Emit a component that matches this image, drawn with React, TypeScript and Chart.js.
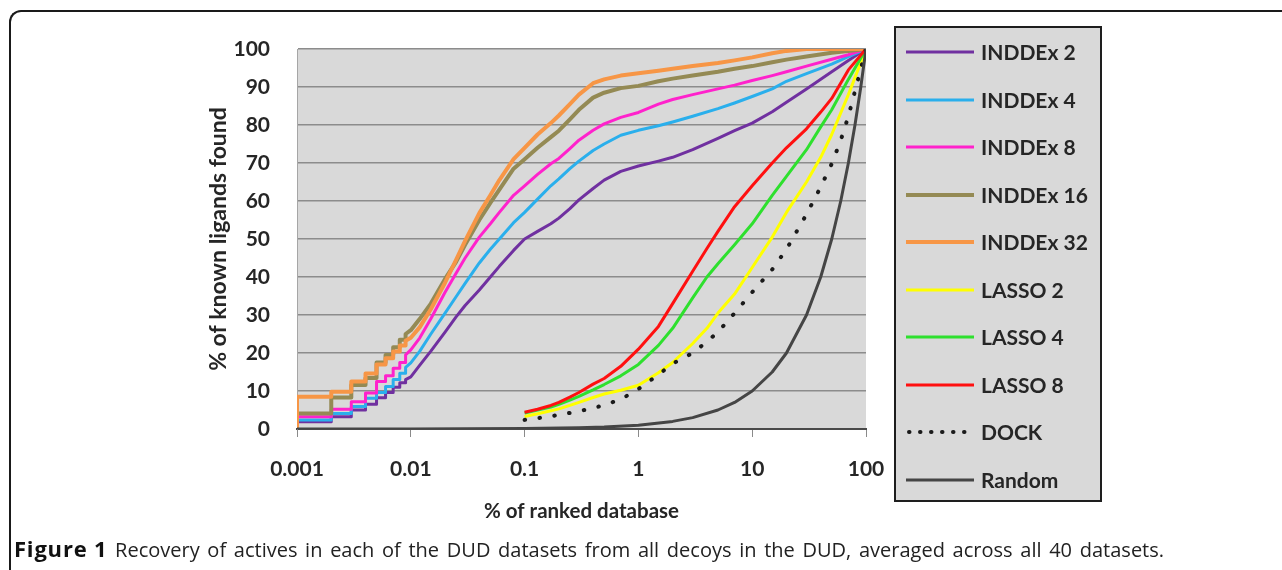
import React, { useEffect, useRef } from 'react';
import { Chart, registerables } from 'chart.js';

Chart.register(...registerables);

// ---------- data ----------
const seriesLabels = ['INDDEx 2', 'INDDEx 4', 'INDDEx 8', 'INDDEx 16', 'INDDEx 32', 'LASSO 2', 'LASSO 4', 'LASSO 8', 'DOCK', 'Random'];

const xTickValues = [0.001, 0.01, 0.1, 1, 10, 100];
const xTickLabels = ['0.001', '0.01', '0.1', '1', '10', '100'];

const inddexX = [
  0.001, 0.001, 0.002, 0.002, 0.003, 0.003, 0.004, 0.004, 0.005, 0.005, 0.006, 0.006, 0.007, 0.007, 0.008, 0.008, 0.009, 0.009,
  0.01, 0.012, 0.015, 0.02, 0.025, 0.03, 0.04, 0.05, 0.06, 0.08, 0.1, 0.13, 0.17, 0.2, 0.25, 0.3, 0.4, 0.5, 0.7,
  1, 1.5, 2, 3, 5, 7, 10, 15, 20, 30, 50, 70, 100,
];
const inddex2 = [
  0, 1.9, 1.9, 3.2, 3.2, 5, 5, 6.5, 6.5, 8.2, 8.2, 9.6, 9.6, 11, 11, 12.2, 12.2, 13,
  13.7, 16.8, 20.5, 25.5, 29.5, 32.5, 36.6, 40, 42.8, 47, 50, 52, 54, 55.5, 58, 60.3, 63.3, 65.5, 67.8,
  69.2, 70.5, 71.5, 73.5, 76.5, 78.5, 80.5, 83.5, 86, 89.5, 94, 97, 100,
];
const inddex4 = [
  0, 2.4, 2.4, 4.1, 4.1, 5.9, 5.9, 8.1, 8.1, 9.6, 9.6, 11.2, 11.2, 13, 13, 14.7, 14.7, 16.2,
  17.4, 20.5, 25, 30.5, 34.8, 38.3, 43.7, 47.3, 50, 54.3, 57, 60.5, 64, 65.8, 68.5, 70.5, 73.3, 75, 77.3,
  78.6, 79.8, 80.8, 82.3, 84.3, 85.8, 87.5, 89.5, 91.5, 93.5, 96, 98, 100,
];
const inddex8 = [
  0, 3.2, 3.2, 5.2, 5.2, 7.2, 7.2, 9.5, 9.5, 12.5, 12.5, 14, 14, 16, 16, 17.5, 17.5, 19.5,
  20.8, 24, 29, 36, 41, 45, 50.5, 54, 57, 61.5, 64, 67, 69.8, 71.2, 73.8, 76, 78.6, 80.3, 82,
  83.3, 85.5, 86.7, 88, 89.5, 90.5, 91.7, 93, 94, 95.5, 97.3, 98.5, 100,
];
const inddex16 = [
  0, 4.1, 4.1, 8.3, 8.3, 11.6, 11.6, 13.4, 13.4, 17.5, 17.5, 19.5, 19.5, 21.5, 21.5, 23.5, 23.5, 25,
  26, 29, 33, 39.5, 44, 48.5, 55, 59.5, 63, 68.5, 71, 74, 76.8, 78.5, 81.5, 84, 87.2, 88.5, 89.7,
  90.3, 91.5, 92.2, 93, 94, 94.8, 95.5, 96.5, 97.2, 98, 99, 99.5, 100,
];
const inddex32 = [
  0, 8.5, 8.5, 9.8, 9.8, 12.5, 12.5, 14.6, 14.6, 17, 17, 18.6, 18.6, 20.4, 20.4, 22, 22, 23.2,
  24, 26.8, 31.5, 38.5, 44.5, 49.5, 56.8, 61.5, 65.5, 71, 74, 77.5, 80.5, 82.5, 85.5, 88, 91, 92, 93,
  93.6, 94.3, 94.8, 95.5, 96.3, 97, 97.8, 98.9, 99.5, 100, 100, 100, 100,
];

const lassoX = [0.1, 0.13, 0.17, 0.2, 0.25, 0.3, 0.4, 0.5, 0.7, 1, 1.5, 2, 3, 4, 5, 7, 10, 15, 20, 30, 40, 50, 70, 100];
const lasso2 = [3.3, 4, 4.8, 5.3, 6.2, 7, 8.3, 9.2, 10.2, 11.5, 14.8, 17.5, 22.5, 26.5, 30.5, 35.5, 42.5, 50.5, 57, 65, 71.5, 77.5, 88, 100];
const lasso4 = [4.2, 5, 5.8, 6.5, 7.6, 8.6, 10.3, 11.7, 14, 17, 22, 26.5, 34.5, 40, 43.5, 48.5, 54, 61.5, 66.5, 73.5, 79.5, 84, 92, 100];
const lasso8 = [4.4, 5.2, 6.2, 7, 8.4, 9.6, 11.8, 13.3, 16.5, 21, 27, 33, 41.5, 47.5, 52, 58.5, 64, 70, 74, 79, 83.4, 87, 94.5, 100];

const dockX = [0.1, 0.15, 0.2, 0.3, 0.4, 0.5, 0.7, 1, 1.5, 2, 3, 4, 5, 7, 10, 15, 20, 30, 40, 50, 60, 70, 100];
const dockY = [2.4, 3.1, 3.7, 4.7, 5.5, 6.3, 7.8, 10.5, 14.3, 17.2, 20, 23, 25.5, 30.5, 36, 42, 47.3, 56.5, 63.7, 69.8, 76, 82.3, 100];

const randomX = [0.001, 0.01, 0.1, 0.3, 0.5, 1, 2, 3, 5, 7, 10, 15, 20, 30, 40, 50, 60, 70, 80, 90, 100];
const randomY = [0.001, 0.01, 0.1, 0.3, 0.5, 1, 2, 3, 5, 7, 10, 15, 20, 30, 40, 50, 60, 70, 80, 90, 100];

// ---------- styles ----------
const seriesColors = ['#7030A0', '#2AAFEC', '#FF22CC', '#948A54', '#F79646', '#FFFF00', '#2EE02E', '#FF1010', '#1A1A1A', '#454545'];
const seriesWidths = [3, 3, 3, 4, 4, 3, 3, 3, 4, 3];

const pts = (xs: number[], ys: number[]) => xs.map((x, i) => ({ x, y: ys[i] }));

const FONT = 'Lato, "Open Sans", sans-serif';

const plotBg = {
  id: 'plotBg',
  beforeDraw(chart: any) {
    const { ctx, chartArea } = chart;
    ctx.save();
    ctx.fillStyle = '#D9D9D9';
    ctx.fillRect(chartArea.left, chartArea.top, chartArea.right - chartArea.left, chartArea.bottom - chartArea.top);
    ctx.restore();
  },
};

const boxLegend = {
  id: 'boxLegend',
  afterDraw(chart: any) {
    const ctx = chart.ctx;
    ctx.save();
    ctx.fillStyle = '#D9D9D9';
    ctx.fillRect(895, 27, 206, 474);
    ctx.strokeStyle = '#1E1E1E';
    ctx.lineWidth = 2;
    ctx.strokeRect(895, 27, 206, 474);
    chart.data.datasets.forEach((ds: any, i: number) => {
      const y = Math.round(52 + i * 47.55);
      ctx.beginPath();
      ctx.strokeStyle = ds.borderColor;
      ctx.lineWidth = ds.borderWidth;
      if (ds.borderDash && ds.borderDash.length) {
        ctx.setLineDash([0.5, 10.5]);
        ctx.lineCap = 'round';
        ctx.moveTo(909, y);
      } else {
        ctx.setLineDash([]);
        ctx.lineCap = 'butt';
        ctx.moveTo(906, y);
      }
      ctx.lineTo(974, y);
      ctx.stroke();
      ctx.setLineDash([]);
      ctx.fillStyle = '#262626';
      ctx.font = 'bold 21px ' + FONT;
      ctx.textBaseline = 'middle';
      ctx.textAlign = 'left';
      ctx.fillText(ds.label, 981, y + 1);
    });
    ctx.restore();
  },
};

export default function App() {
  const canvasRef = useRef<HTMLCanvasElement | null>(null);

  useEffect(() => {
    const canvas = canvasRef.current;
    if (!canvas) return;
    const seriesData = [
      pts(inddexX, inddex2),
      pts(inddexX, inddex4),
      pts(inddexX, inddex8),
      pts(inddexX, inddex16),
      pts(inddexX, inddex32),
      pts(lassoX, lasso2),
      pts(lassoX, lasso4),
      pts(lassoX, lasso8),
      pts(dockX, dockY),
      pts(randomX, randomY),
    ];
    const n = seriesLabels.length;
    const datasets = seriesLabels.map((label, i) => {
      const isDock = label === 'DOCK';
      return {
        label,
        data: seriesData[i],
        borderColor: seriesColors[i],
        backgroundColor: seriesColors[i],
        borderWidth: seriesWidths[i],
        borderDash: isDock ? [0.5, 14.5] : [],
        borderCapStyle: isDock ? 'round' : 'butt',
        borderJoinStyle: 'round',
        pointRadius: 0,
        tension: 0,
        fill: false,
        order: n - i,
      };
    });

    const chart = new Chart(canvas, {
      type: 'line',
      data: { datasets } as any,
      options: {
        responsive: false,
        animation: false,
        layout: { padding: { left: 195, top: 49, right: 416, bottom: 40 } },
        plugins: {
          legend: { display: false },
          tooltip: { enabled: false },
          title: { display: false },
        },
        scales: {
          x: {
            type: 'logarithmic',
            position: 'bottom',
            min: 0.001,
            max: 100,
            afterBuildTicks: (scale: any) => {
              scale.ticks = xTickValues.map((v) => ({ value: v }));
            },
            afterFit: (scale: any) => {
              scale.height = 101;
            },
            ticks: {
              autoSkip: false,
              maxRotation: 0,
              padding: 20,
              color: '#262626',
              font: { family: FONT, size: 21, weight: 'bold' },
              callback: (value: any) => {
                const idx = xTickValues.findIndex((v) => Math.abs(v - Number(value)) < v * 1e-6);
                return idx >= 0 ? xTickLabels[idx] : '';
              },
            },
            grid: {
              drawOnChartArea: false,
              drawTicks: true,
              tickLength: 8,
              color: '#8A8A8A',
              lineWidth: 1,
            },
            border: { display: true, color: '#4A4A4A', width: 2 },
            title: {
              display: true,
              text: '% of ranked database',
              color: '#262626',
              font: { family: FONT, size: 20.5, weight: 'bold' },
              padding: { top: 0, bottom: 6 },
            },
          },
          y: {
            type: 'linear',
            min: 0,
            max: 100,
            afterFit: (scale: any) => {
              scale.width = 102;
            },
            ticks: {
              stepSize: 10,
              padding: 27,
              color: '#262626',
              font: { family: FONT, size: 21, weight: 'bold' },
            },
            grid: {
              color: '#8C8C8C',
              lineWidth: 1.5,
              drawTicks: false,
            },
            border: { display: true, color: '#A6A6A6', width: 1 },
            title: {
              display: true,
              text: '% of known ligands found',
              color: '#262626',
              font: { family: FONT, size: 23, weight: 'bold' },
              padding: { top: 10, bottom: 0 },
            },
          },
        },
      } as any,
      plugins: [plotBg, boxLegend],
    });
    return () => chart.destroy();
  }, []);

  return (
    <div style={{ position: 'absolute', left: 0, top: 0, width: 1282, height: 570, overflow: 'hidden', background: '#fff' }}>
      <div
        style={{
          position: 'absolute',
          left: 9,
          top: 10,
          width: 1320,
          height: 620,
          borderLeft: '2px solid #1A1A1A',
          borderTop: '2px solid #1A1A1A',
          borderTopLeftRadius: 12,
          boxSizing: 'border-box',
        }}
      />
      <canvas ref={canvasRef} width={1282} height={570} style={{ position: 'absolute', left: 0, top: 0, display: 'block' }} />
      <div
        style={{
          position: 'absolute',
          left: 14,
          top: 535,
          fontFamily: '"Open Sans", sans-serif',
          fontSize: 20,
          lineHeight: '27px',
          color: '#222',
          whiteSpace: 'nowrap',
          wordSpacing: 2.5,
        }}
      >
        <span style={{ fontWeight: 'bold', color: '#111', fontSize: 22, letterSpacing: 0.8, wordSpacing: 0 }}>Figure 1</span> Recovery of actives in each of the DUD datasets from all decoys in the DUD, averaged across all 40 datasets.
      </div>
    </div>
  );
}
